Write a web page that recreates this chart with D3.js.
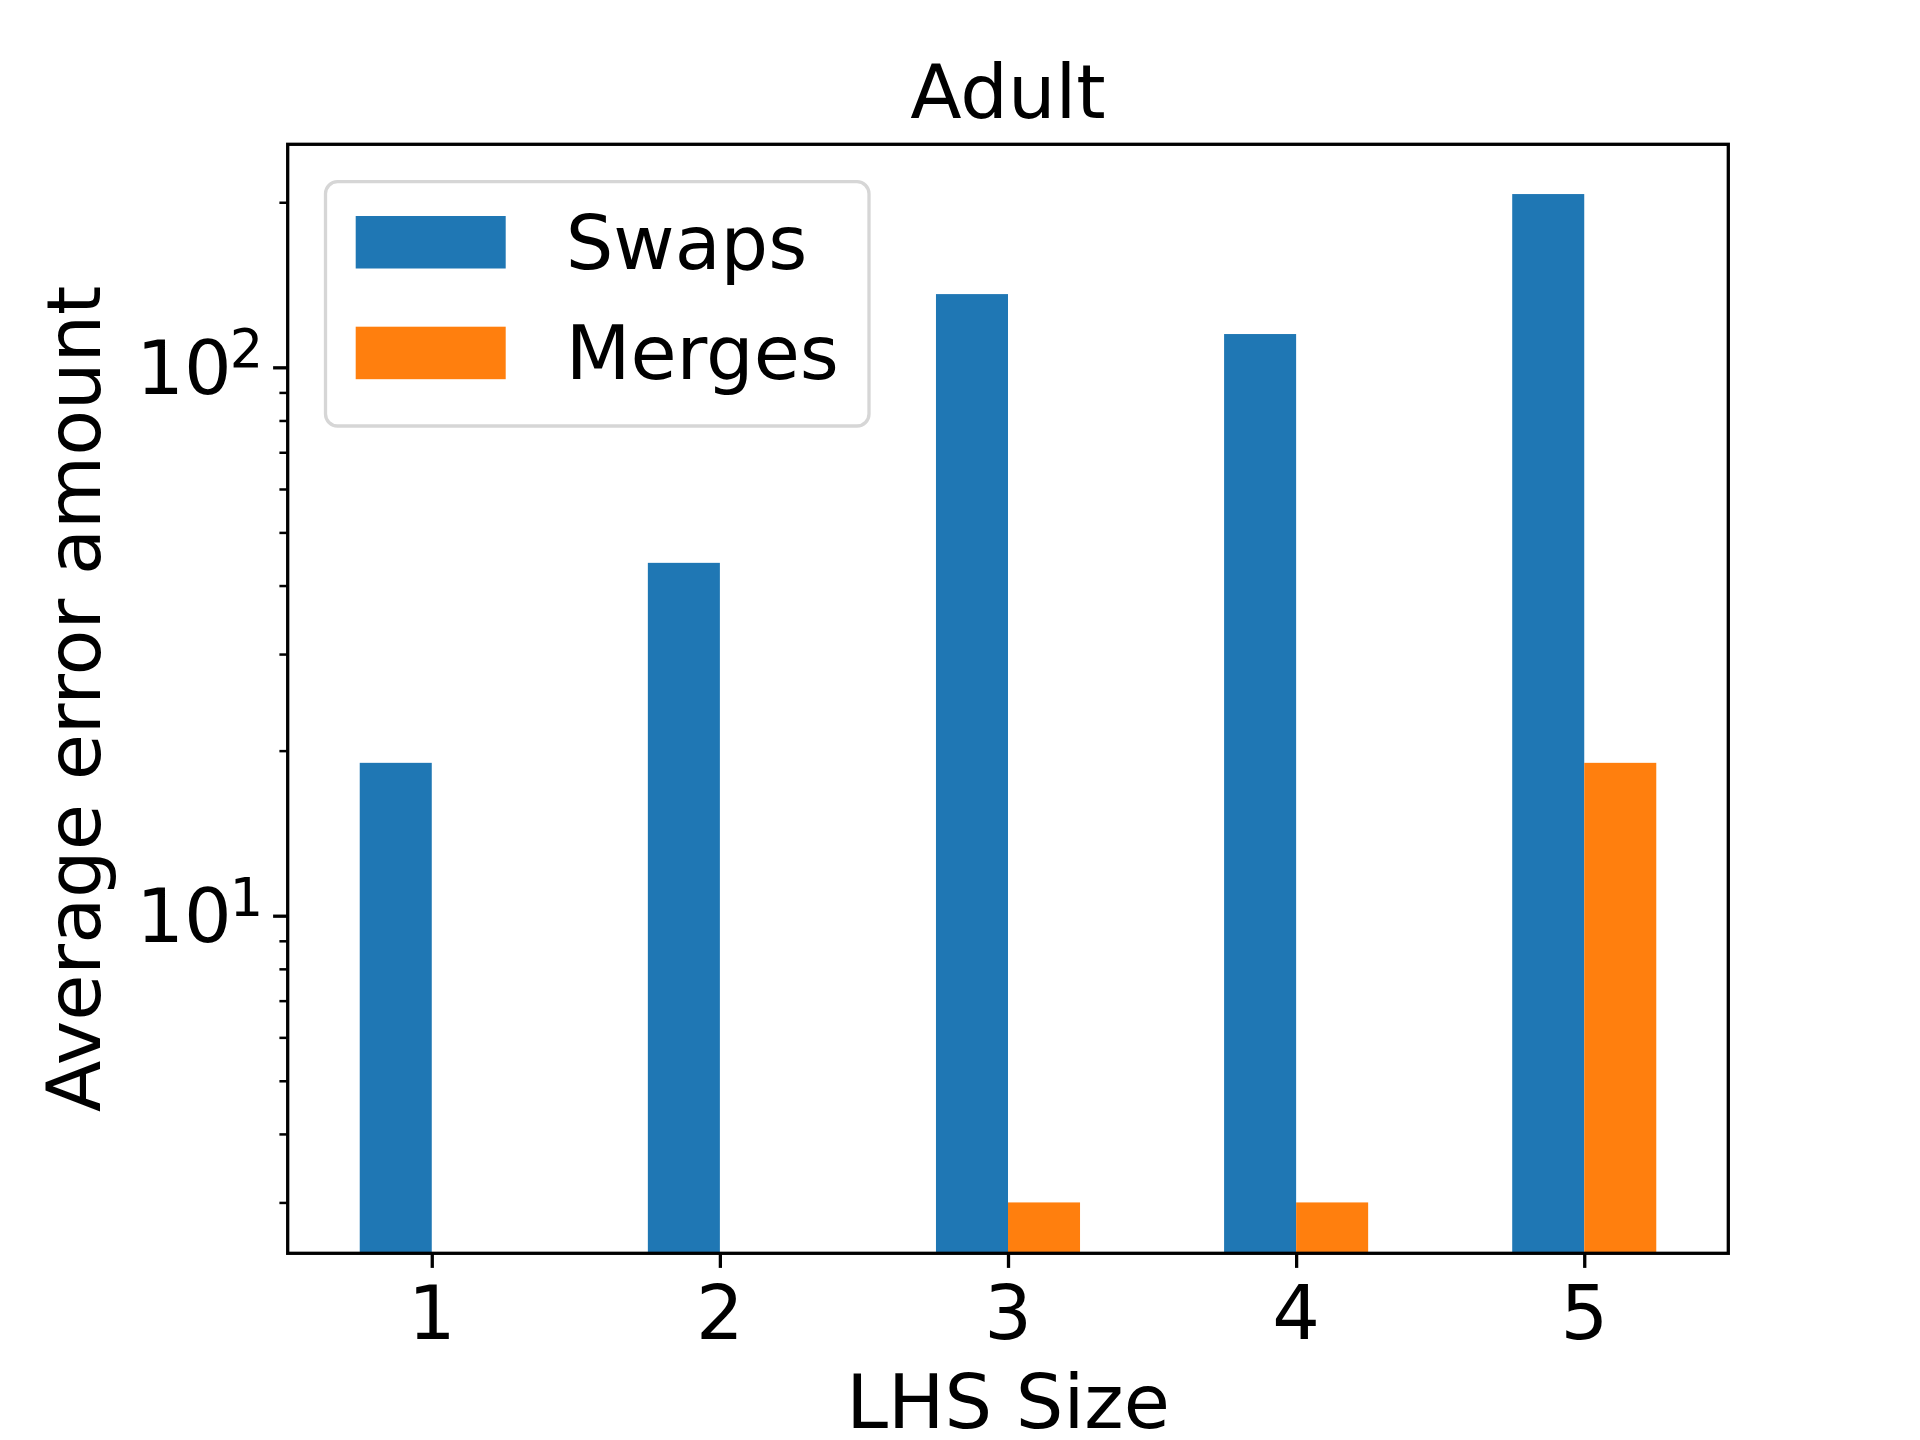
<!DOCTYPE html>
<html>
<head>
<meta charset="utf-8">
<script src="https://cdn.jsdelivr.net/npm/d3@7"></script>
<style>
  html, body { margin: 0; padding: 0; background: #fff; }
  svg { display: block; }
  text { font-family: "DejaVu Sans", sans-serif; fill: #000; }
</style>
</head>
<body>
<svg id="chart" width="1920" height="1440"></svg>
<script>
// ---- data ----
const categories = [1, 2, 3, 4, 5];
const seriesNames = ["Swaps", "Merges"];
const swaps  = [19, 44, 136, 115, 207];
const merges = [0, 0, 3, 3, 19];
const yMajorTicks = [10, 100];
const yMajorExponents = ["1", "2"];
const titleText = "Adult";
const xLabelText = "LHS Size";
const yLabelText = "Average error amount";

// ---- layout ----
const W = 1920, H = 1440;
const plot = { left: 287.7, right: 1728.3, top: 144.3, bottom: 1253.3 };
const colors = ["#1f77b4", "#ff7f0e"];
const FS = 75;
const barWidth = 0.25;

const svg = d3.select("#chart");
svg.append("rect").attr("width", W).attr("height", H).attr("fill", "#fff");

const x = d3.scaleLinear().domain([0.5, 5.5]).range([plot.left, plot.right]);
const y = d3.scaleLog().domain([2.423, 255.1]).range([plot.bottom, plot.top]);

svg.append("clipPath").attr("id", "clip")
  .append("rect")
  .attr("x", plot.left).attr("y", plot.top)
  .attr("width", plot.right - plot.left).attr("height", plot.bottom - plot.top);

const g = svg.append("g").attr("clip-path", "url(#clip)");

const series = [swaps, merges];
series.forEach((vals, si) => {
  const data = categories.map((c, i) => ({ c, v: vals[i] })).filter(d => d.v > 0);
  g.selectAll(null).data(data).enter().append("rect")
    .attr("x", d => x(d.c + (si - 1) * barWidth))
    .attr("width", d => x(d.c + si * barWidth) - x(d.c + (si - 1) * barWidth))
    .attr("y", d => y(d.v))
    .attr("height", d => plot.bottom - y(d.v))
    .attr("fill", colors[si]);
});

// ---- axes ----
const xAxis = d3.axisBottom(x).tickValues(categories).tickSize(14.6).tickPadding(10).tickFormat("");
const gx = svg.append("g").attr("transform", `translate(0,${plot.bottom})`).call(xAxis);
gx.select(".domain").remove();
gx.selectAll(".tick line").attr("stroke", "#000").attr("stroke-width", 3.3);

svg.append("g").selectAll(null).data(categories).enter().append("text")
  .attr("x", d => x(d)).attr("y", 1339)
  .attr("text-anchor", "middle")
  .attr("font-size", FS)
  .text(d => d);

const yMinor = y.ticks().filter(t => !yMajorTicks.includes(t));
const yAxisMinor = d3.axisLeft(y).tickValues(yMinor).tickSize(8.3).tickFormat("");
const gym = svg.append("g").attr("transform", `translate(${plot.left},0)`).call(yAxisMinor);
gym.select(".domain").remove();
gym.selectAll(".tick line").attr("stroke", "#000").attr("stroke-width", 2.5);

const yAxisMajor = d3.axisLeft(y).tickValues(yMajorTicks).tickSize(14.6).tickFormat("");
const gyM = svg.append("g").attr("transform", `translate(${plot.left},0)`).call(yAxisMajor);
gyM.select(".domain").remove();
gyM.selectAll(".tick line").attr("stroke", "#000").attr("stroke-width", 3.3);

yMajorTicks.forEach((t, i) => {
  const tx = svg.append("text")
    .attr("x", plot.left - 24.5)
    .attr("y", y(t) + 26.5)
    .attr("text-anchor", "end")
    .attr("font-size", FS);
  tx.append("tspan").text("10");
  tx.append("tspan").attr("dx", -2).attr("dy", -26.5).attr("font-size", FS * 0.7).text(yMajorExponents[i]);
});

// spines
svg.append("rect")
  .attr("x", plot.left).attr("y", plot.top)
  .attr("width", plot.right - plot.left).attr("height", plot.bottom - plot.top)
  .attr("fill", "none").attr("stroke", "#000").attr("stroke-width", 3.3);

// ---- title and labels ----
const cx = (plot.left + plot.right) / 2;
svg.append("text").attr("x", cx).attr("y", 118).attr("text-anchor", "middle")
  .attr("font-size", FS).text(titleText);
svg.append("text").attr("x", cx).attr("y", 1428).attr("text-anchor", "middle")
  .attr("font-size", FS).text(xLabelText);
svg.append("text")
  .attr("transform", `translate(100,${(plot.top + plot.bottom) / 2}) rotate(-90)`)
  .attr("text-anchor", "middle")
  .attr("font-size", FS).text(yLabelText);

// ---- legend ----
const lg = svg.append("g");
lg.append("rect")
  .attr("x", 325.5).attr("y", 181.7).attr("width", 869 - 325.5).attr("height", 426 - 181.7)
  .attr("rx", 12).attr("ry", 12)
  .attr("fill", "#fff").attr("fill-opacity", 0.8)
  .attr("stroke", "#d6d6d6").attr("stroke-width", 3.3);
const rowTop = [216, 326.7];
seriesNames.forEach((name, i) => {
  lg.append("rect")
    .attr("x", 355.7).attr("y", rowTop[i]).attr("width", 150).attr("height", 52.5)
    .attr("fill", colors[i]);
  lg.append("text")
    .attr("x", 565.7).attr("y", rowTop[i] + 52.5)
    .attr("font-size", FS).text(name);
});
</script>
</body>
</html>
